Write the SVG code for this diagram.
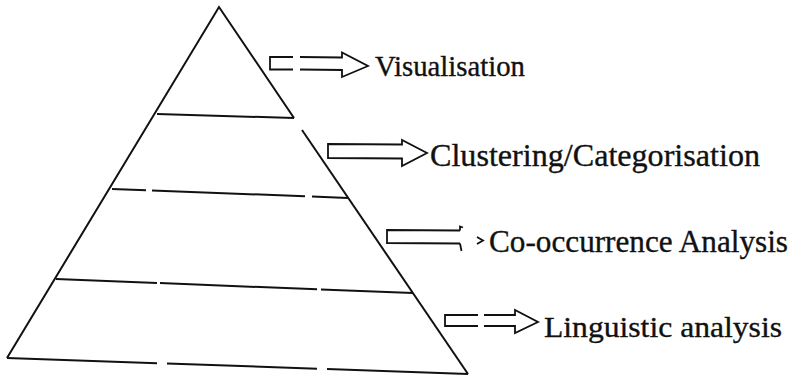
<svg xmlns="http://www.w3.org/2000/svg" width="797" height="378" viewBox="0 0 797 378">
<style>
.ln{fill:none;stroke:#111;stroke-width:2;stroke-linecap:butt;stroke-linejoin:miter}
.ar{fill:none;stroke:#111;stroke-width:1.8;stroke-linejoin:miter}
.lb{font-family:"Liberation Serif","Times New Roman",serif;fill:#111;stroke:#111;stroke-width:0.35}
</style>
<rect width="797" height="378" fill="#fff"/>
<g id="pyramid">
  <g id="outline">
    <path class="ln" d="M7,358 L219,7 L294,118"/>
    <path class="ln" d="M302,130 L468,374"/>
  </g>
  <g id="level-visualisation">
    <path class="ln" d="M157,114 L294,118"/>
  </g>
  <g id="level-clustering">
    <path class="ln" d="M112,189 L146,190.3 M152,190.5 L305,196.3 M312,196.6 L348,198"/>
  </g>
  <g id="level-cooccurrence">
    <path class="ln" d="M56,279 L157,283 M160,283.1 L317,289.3 M321,289.4 L413,293"/>
  </g>
  <g id="level-linguistic">
    <path class="ln" d="M7,358 L157,363.2 M167,363.5 L317,368.7 M327,369 L468,374"/>
  </g>
</g>
<g id="connectors">
  <path id="arrow-visualisation" class="ar" d="M293,57 L270,57 L270,69.5 L293,69.5 M300,57 L342,57.5 L342,52.5 L368,66 L342,77 L342,70 L300,69.5"/>
  <path id="arrow-clustering" class="ar" d="M402,144.5 L328,144 L328,158 L402,158.5 L402,166 L427,153 L402,140 Z"/>
  <path id="arrow-cooccurrence" class="ar" d="M460,230.5 L387,230 L387,243 L460,243.5 M460,230.5 L460,226.5 L463,227.5 M460,243.5 L461.5,251 M477,237 L483,240.5 L477,244"/>
  <path id="arrow-linguistic" class="ar" d="M478,315 L445,315 L445,326 L478,326 M484,315 L515,315 L515,310 L538,322 L515,333 L515,326 L484,326"/>
</g>
<g id="label-visualisation"><text class="lb" x="375" y="76" font-size="29" textLength="150" lengthAdjust="spacingAndGlyphs">Visualisation</text></g>
<g id="label-clustering"><text class="lb" x="430" y="166" font-size="31" textLength="330" lengthAdjust="spacingAndGlyphs">Clustering/Categorisation</text></g>
<g id="label-cooccurrence"><text class="lb" x="489" y="252" font-size="31" textLength="299" lengthAdjust="spacingAndGlyphs">Co-occurrence Analysis</text></g>
<g id="label-linguistic"><text class="lb" x="544" y="337" font-size="30" textLength="238" lengthAdjust="spacingAndGlyphs">Linguistic analysis</text></g>
</svg>
